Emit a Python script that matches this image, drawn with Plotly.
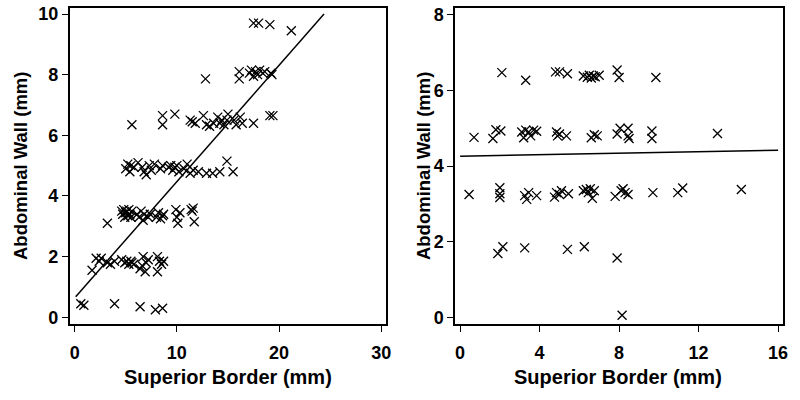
import plotly.graph_objects as go

# ---- Left panel data (Superior Border vs Abdominal Wall) ----
left_x = [0.6, 0.9, 3.9, 6.4, 7.9, 8.6,
          1.7, 2.1, 2.4, 2.6, 3.2, 3.5, 3.9, 4.6, 4.9, 5.1, 5.3, 5.5, 5.6, 5.8, 6.4, 6.6, 6.7, 6.9, 7.0, 7.2, 8.1, 8.3, 8.5, 8.7, 8.1,
          3.2, 4.6, 4.7, 4.8, 4.9, 5.0, 5.1, 5.2, 5.3, 5.4, 5.5, 5.6, 6.1, 6.3, 6.5, 6.7, 6.8, 7.2, 7.4, 8.0, 8.2, 8.4, 8.6, 8.7, 9.9, 10.0, 10.1, 10.3, 11.4, 11.5, 11.7, 11.6,
          5.0, 5.2, 5.4, 5.5, 5.8, 6.2, 6.6, 6.8, 7.0, 7.3, 7.5, 7.8, 8.4, 8.6, 9.2, 9.4, 9.6, 9.8, 10.0, 10.2, 10.7, 11.0, 11.3, 11.6, 12.1, 12.9, 13.5, 14.2, 14.9, 15.5,
          5.6, 8.6, 8.6, 9.8, 11.3, 11.5, 11.8, 12.6, 12.9, 13.2, 13.6, 14.0, 14.2, 14.4, 14.6, 14.9, 15.0, 15.6, 15.8, 16.2, 16.4, 17.5, 19.1, 19.4,
          12.8, 16.1, 16.1, 17.1, 17.3, 17.5, 17.7, 17.9, 18.1, 18.4, 18.6, 19.2, 19.3,
          17.5, 18.0, 19.1, 21.2]
left_y = [0.45, 0.4, 0.45, 0.35, 0.25, 0.3,
          1.55, 1.95, 1.85, 1.95, 1.8, 1.75, 1.85, 1.9, 1.8, 1.85, 1.75, 1.85, 1.8, 1.75, 1.6, 1.7, 2.0, 1.5, 1.8, 1.9, 2.0, 1.85, 1.75, 1.85, 1.5,
          3.1, 3.5, 3.4, 3.55, 3.3, 3.45, 3.5, 3.35, 3.55, 3.4, 3.3, 3.5, 3.4, 3.3, 3.5, 3.2, 3.4, 3.3, 3.4, 3.3, 3.45, 3.25, 3.35, 3.4, 3.55, 3.3, 3.1, 3.45, 3.55, 3.5, 3.15, 3.6,
          4.9, 5.05, 4.8, 5.0, 4.95, 5.1, 4.95, 4.8, 4.7, 5.0, 4.85, 5.05, 4.9, 5.0, 4.95, 5.0, 4.85, 4.95, 5.0, 4.8, 4.9, 5.05, 4.75, 4.85, 4.8, 4.75, 4.75, 4.8, 5.15, 4.8,
          6.35, 6.65, 6.35, 6.7, 6.5, 6.45, 6.4, 6.65, 6.35, 6.3, 6.4, 6.6, 6.4, 6.5, 6.35, 6.5, 6.7, 6.5, 6.35, 6.6, 6.4, 6.4, 6.65, 6.65,
          7.86, 8.1, 7.86, 8.05, 8.15, 7.95, 8.1, 8.0, 8.15, 8.05, 8.1, 8.05, 8.0,
          9.7, 9.7, 9.65, 9.45]
left_fit_intercept = 0.64
left_fit_slope = 0.3835
left_fit_x = [0.1, 24.4]

# ---- Right panel data ----
right_x = [2.1, 3.3, 4.8, 5.0, 5.4, 6.2, 6.4, 6.5, 6.6, 6.7, 6.8, 7.0, 7.9, 8.0, 9.85,
           0.7, 1.65, 1.8, 2.05, 3.1, 3.2, 3.3, 3.45, 3.55, 3.7, 3.85, 4.85, 4.9, 5.0, 5.35, 6.6, 6.75, 6.9, 7.9, 8.05, 8.45, 8.5, 8.45, 9.65, 9.65, 12.95,
           0.45, 2.0, 2.0, 2.0, 3.25, 3.35, 3.45, 3.85, 4.75, 4.85, 5.0, 5.1, 5.45, 6.2, 6.35, 6.45, 6.55, 6.65, 6.75, 7.8, 8.1, 8.2, 8.3, 8.45, 9.7, 10.95, 11.2, 14.15,
           1.9, 2.15, 3.25, 5.4, 6.25, 7.9, 8.15]
right_y = [6.47, 6.27, 6.49, 6.49, 6.44, 6.38, 6.35, 6.4, 6.33, 6.38, 6.36, 6.4, 6.54, 6.34, 6.34,
           4.76, 4.73, 4.96, 4.93, 4.9, 4.75, 4.95, 4.9, 4.8, 4.95, 4.92, 4.9, 4.8, 4.85, 4.8, 4.75, 4.83, 4.8, 4.85, 5.0, 5.0, 4.73, 4.8, 4.93, 4.73, 4.86,
           3.25, 3.43, 3.27, 3.17, 3.22, 3.12, 3.3, 3.22, 3.18, 3.3, 3.25, 3.35, 3.27, 3.35, 3.38, 3.3, 3.4, 3.15, 3.35, 3.2, 3.35, 3.4, 3.3, 3.25, 3.3, 3.3, 3.42, 3.38,
           1.69, 1.87, 1.84, 1.8, 1.87, 1.57, 0.06]
right_fit_intercept = 4.26
right_fit_slope = 0.01
right_fit_x = [0.0, 16.0]

left_xticks = [0, 10, 20, 30]
left_yticks = [0, 2, 4, 6, 8, 10]
right_xticks = [0, 4, 8, 12, 16]
right_yticks = [0, 2, 4, 6, 8]

x_title = "Superior Border (mm)"
y_title = "Abdominal Wall (mm)"

FONT = "Liberation Sans, Arial, sans-serif"

marker = dict(symbol="x-thin", size=9, color="black", line=dict(width=1.3, color="black"))

fig = go.Figure()
fig.add_trace(go.Scatter(x=left_x, y=left_y, mode="markers", marker=marker, xaxis="x", yaxis="y", showlegend=False))
fig.add_trace(go.Scatter(x=left_fit_x, y=[left_fit_intercept + left_fit_slope * v for v in left_fit_x],
                         mode="lines", line=dict(color="black", width=1.5), xaxis="x", yaxis="y", showlegend=False))
fig.add_trace(go.Scatter(x=right_x, y=right_y, mode="markers", marker=marker, xaxis="x2", yaxis="y2", showlegend=False))
fig.add_trace(go.Scatter(x=right_fit_x, y=[right_fit_intercept + right_fit_slope * v for v in right_fit_x],
                         mode="lines", line=dict(color="black", width=1.5), xaxis="x2", yaxis="y2", showlegend=False))

axis_common = dict(showline=True, linecolor="black", linewidth=1.5, mirror=True, showgrid=False, zeroline=False,
                   ticks="outside", ticklen=6, tickwidth=1.2, tickcolor="black",
                   tickfont=dict(family=FONT, size=18, color="black", weight="bold"))
title_font = dict(family=FONT, size=20, color="black", weight="bold")
ytitle_font = dict(family=FONT, size=18.5, color="black", weight="bold")

fig.update_layout(
    width=800, height=400,
    margin=dict(l=0, r=0, t=0, b=0),
    paper_bgcolor="white", plot_bgcolor="white",
    xaxis=dict(domain=[0.0875, 0.486], range=[-0.5, 30.5], tickvals=left_xticks, anchor="y",
               ticklabelstandoff=5, **axis_common),
    yaxis=dict(domain=[0.185, 0.99], range=[-0.23, 10.2], tickvals=left_yticks, anchor="x", **axis_common),
    xaxis2=dict(domain=[0.5725, 0.985], range=[-0.25, 16.25], tickvals=right_xticks, anchor="y2",
                ticklabelstandoff=5, **axis_common),
    yaxis2=dict(domain=[0.185, 0.99], range=[-0.18, 8.18], tickvals=right_yticks, anchor="x2", **axis_common),
)

# Axis titles as paper-anchored annotations
for xc in (0.287, 0.777):
    fig.add_annotation(text="<b>" + x_title + "</b>", xref="paper", yref="paper", x=xc, y=0.05,
                       xanchor="center", yanchor="middle", showarrow=False, font=title_font)
for xc in (0.025, 0.532):
    fig.add_annotation(text="<b>" + y_title + "</b>", xref="paper", yref="paper", x=xc, y=0.5875,
                       xanchor="center", yanchor="middle", textangle=-90, showarrow=False, font=ytitle_font)

post_js = """
document.documentElement.style.margin = '0';
document.body.style.margin = '0';
document.body.style.padding = '0';
"""

fig.write_html("out.html", post_script=post_js, config={"displayModeBar": False})
